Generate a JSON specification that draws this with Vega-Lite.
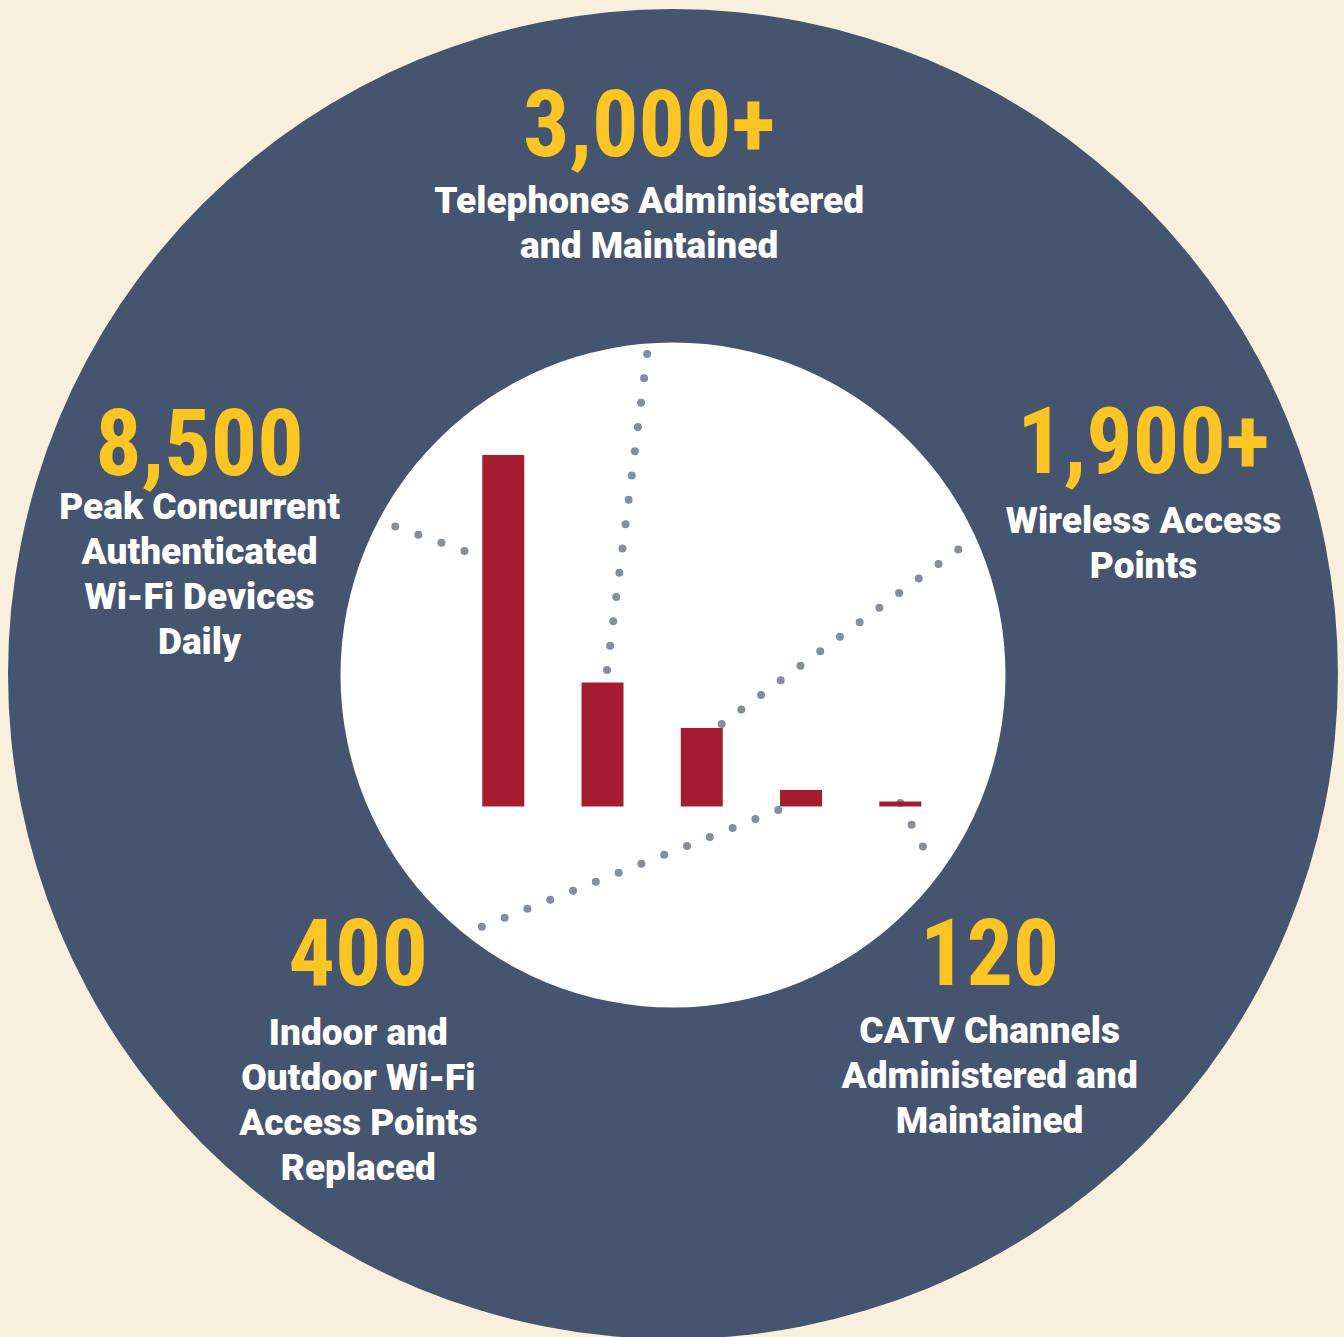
{
  "$schema": "https://vega.github.io/schema/vega-lite/v6.json",
  "width": 1344,
  "height": 1337,
  "autosize": {"type": "none"},
  "padding": 0,
  "background": "#f8f0dd",
  "config": {"view": {"stroke": null}},
  "datasets": {
    "rings": [
      {"ring": "outer", "cx": 2.71, "cy": 3204},
      {"ring": "inner", "cx": 2.71, "cy": 3180}
    ],
    "metrics": [
      {"slot": 1, "value": 8500, "number": "8,500", "label": "Peak Concurrent\nAuthenticated\nWi-Fi Devices\nDaily", "tx": -2.06, "ny": 8016, "ly": 6952, "ax": 0.61, "ay": 6179, "bx": -0.13, "by": 6807},
      {"slot": 2, "value": 3000, "number": "3,000+", "label": "Telephones Administered\nand Maintained", "tx": 2.47, "ny": 15730, "ly": 14352, "ax": 2.45, "ay": 10942, "bx": 2.03, "by": 3011},
      {"slot": 3, "value": 1900, "number": "1,900+", "label": "Wireless Access\nPoints", "tx": 7.45, "ny": 8065, "ly": 6614, "ax": 3.20, "ay": 1995, "bx": 5.59, "by": 6227},
      {"slot": 4, "value": 400, "number": "400", "label": "Indoor and\nOutdoor Wi-Fi\nAccess Points\nReplaced", "tx": -0.46, "ny": -4316, "ly": -5767, "ax": 3.77, "ay": -85, "bx": 0.75, "by": -2938},
      {"slot": 5, "value": 120, "number": "120", "label": "CATV Channels\nAdministered and\nMaintained", "tx": 5.90, "ny": -4316, "ly": -5719, "ax": 5.00, "ay": 85, "bx": 5.32, "by": -1390}
    ]
  },
  "layer": [
    {
      "data": {"name": "rings"},
      "transform": [{"filter": "datum.ring === 'outer'"}],
      "mark": {"type": "point", "shape": "circle", "filled": true, "size": 1768900, "color": "#46556f", "opacity": 1},
      "encoding": {
        "x": {"field": "cx", "type": "quantitative", "scale": {"domain": [-4.02, 9.42], "nice": false, "zero": false}, "axis": null},
        "y": {"field": "cy", "type": "quantitative", "scale": {"domain": [-12829, 19503], "nice": false, "zero": false}, "axis": null}
      }
    },
    {
      "data": {"name": "rings"},
      "transform": [{"filter": "datum.ring === 'inner'"}],
      "mark": {"type": "point", "shape": "circle", "filled": true, "size": 442225, "color": "#ffffff", "opacity": 1},
      "encoding": {
        "x": {"field": "cx", "type": "quantitative", "axis": null},
        "y": {"field": "cy", "type": "quantitative", "axis": null}
      }
    },
    {
      "data": {"name": "metrics"},
      "mark": {"type": "rule", "color": "#858e9d", "strokeWidth": 8, "strokeCap": "round", "strokeDash": [0, 24.5]},
      "encoding": {
        "x": {"field": "ax", "type": "quantitative", "axis": null},
        "y": {"field": "ay", "type": "quantitative", "axis": null},
        "x2": {"field": "bx"},
        "y2": {"field": "by"}
      }
    },
    {
      "data": {"name": "metrics"},
      "mark": {"type": "bar", "width": 42, "color": "#a51c30"},
      "encoding": {
        "x": {"field": "slot", "type": "quantitative", "axis": null},
        "y": {"field": "value", "type": "quantitative", "axis": null},
        "y2": {"datum": 0}
      }
    },
    {
      "data": {"name": "metrics"},
      "mark": {"type": "text", "font": "Roboto Condensed, Open Sans Condensed, Liberation Sans Narrow, Arial Narrow, sans-serif", "fontWeight": "bold", "fontSize": 92, "color": "#fdc524", "align": "center", "baseline": "alphabetic"},
      "encoding": {
        "x": {"field": "tx", "type": "quantitative", "axis": null},
        "y": {"field": "ny", "type": "quantitative", "axis": null},
        "text": {"field": "number", "type": "nominal"}
      }
    },
    {
      "data": {"name": "metrics"},
      "mark": {"type": "text", "font": "Roboto", "fontWeight": 900, "fontSize": 37, "color": "#ffffff", "align": "center", "baseline": "alphabetic", "lineBreak": "\n", "lineHeight": 45},
      "encoding": {
        "x": {"field": "tx", "type": "quantitative", "axis": null},
        "y": {"field": "ly", "type": "quantitative", "axis": null},
        "text": {"field": "label", "type": "nominal"}
      }
    }
  ]
}
